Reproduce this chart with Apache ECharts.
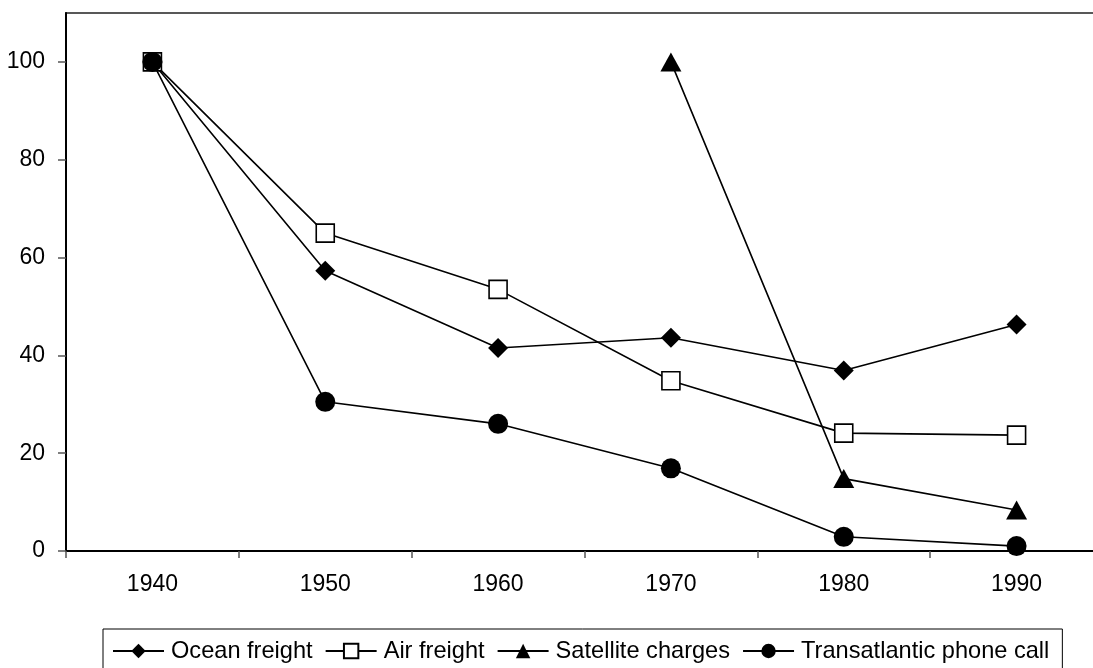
<!DOCTYPE html>
<html>
<head>
<meta charset="utf-8">
<script src="https://cdn.jsdelivr.net/npm/echarts@6/dist/echarts.min.js"></script>
<style>
html,body{margin:0;padding:0;background:#fff;overflow:hidden;width:1093px;height:668px;}
#chart{width:1103px;height:668px;}
</style>
</head>
<body>
<div id="chart"></div>
<script>
var categories = ['1940', '1950', '1960', '1970', '1980', '1990'];
var oceanFreight = [100, 57.3, 41.5, 43.6, 36.9, 46.3];
var airFreight = [100, 65.0, 53.5, 34.8, 24.1, 23.7];
var satelliteCharges = [null, null, null, 100, 14.8, 8.4];
var phoneCall = [100, 30.5, 26.0, 16.9, 2.9, 1.0];
var yTicks = [0, 20, 40, 60, 80, 100];

var FONT = '"Liberation Sans", Arial, sans-serif';

function lineSeries(name, data, symbol, size, filled) {
  return {
    name: name,
    type: 'line',
    data: data,
    symbol: symbol,
    symbolSize: size,
    showAllSymbol: true,
    connectNulls: false,
    lineStyle: {color: '#000', width: 1.6},
    itemStyle: {
      color: filled ? '#000' : '#fff',
      borderColor: '#000',
      borderWidth: filled ? 0 : 1.6
    },
    emphasis: {disabled: true},
    animation: false
  };
}

var chart = echarts.init(document.getElementById('chart'), null, {renderer: 'canvas'});
chart.setOption({
  backgroundColor: '#fff',
  animation: false,
  textStyle: {fontFamily: FONT, color: '#000'},
  grid: {
    left: 66, top: 13, right: 0, bottom: 117,
    show: true, borderColor: '#222', borderWidth: 1.5, backgroundColor: 'transparent'
  },
  legend: {
    left: 103, top: 629,
    padding: [10, 13, 10, 9],
    borderColor: '#000', borderWidth: 1,
    itemWidth: 51, itemHeight: 18, itemGap: 12,
    textStyle: {fontFamily: FONT, fontSize: 23.6, color: '#000', padding: [0, 0, 0, 2]},
    data: ['Ocean freight', 'Air freight', 'Satellite charges', 'Transatlantic phone call']
  },
  xAxis: {
    type: 'category',
    data: categories,
    boundaryGap: true,
    axisLine: {lineStyle: {color: '#000', width: 2}},
    axisTick: {show: true, length: 7, inside: false, lineStyle: {color: '#555', width: 1.5}},
    axisLabel: {fontFamily: FONT, fontSize: 23, color: '#000', margin: 22},
    splitLine: {show: false}
  },
  yAxis: {
    type: 'value',
    min: 0, max: 110, interval: 20,
    axisLine: {show: true, lineStyle: {color: '#000', width: 2}},
    axisTick: {show: true, length: 8, inside: false, lineStyle: {color: '#555', width: 1.5}, customValues: yTicks},
    axisLabel: {fontFamily: FONT, fontSize: 23, color: '#000', margin: 21, customValues: yTicks},
    splitLine: {show: false}
  },
  series: [
    lineSeries('Ocean freight', oceanFreight, 'diamond', 20, true),
    lineSeries('Air freight', airFreight, 'rect', 18, false),
    lineSeries('Satellite charges', satelliteCharges, 'triangle', [21, 19], true),
    lineSeries('Transatlantic phone call', phoneCall, 'circle', 20, true)
  ]
});
</script>
</body>
</html>
